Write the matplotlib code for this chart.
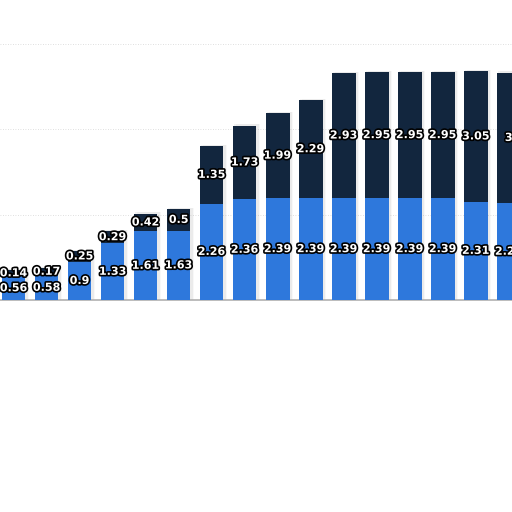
import matplotlib
matplotlib.use("Agg")
import matplotlib.pyplot as plt
import matplotlib.patheffects as pe
import numpy as np

bottom_vals = [0.56, 0.58, 0.9, 1.33, 1.61, 1.63, 2.26, 2.36, 2.39, 2.39, 2.39, 2.39, 2.39, 2.39, 2.31, 2.27]
top_vals = [0.14, 0.17, 0.25, 0.29, 0.42, 0.5, 1.35, 1.73, 1.99, 2.29, 2.93, 2.95, 2.95, 2.95, 3.05, 3.06]
top_labels = ["0.14", "0.17", "0.25", "0.29", "0.42", "0.5", "1.35", "1.73", "1.99", "2.29", "2.93", "2.95", "2.95", "2.95", "3.05", "3"]
bottom_labels = ["0.56", "0.58", "0.9", "1.33", "1.61", "1.63", "2.26", "2.36", "2.39", "2.39", "2.39", "2.39", "2.39", "2.39", "2.31", "2.27"]

blue = "#2e78dc"
navy = "#12263e"

fig = plt.figure(figsize=(5.12, 5.12), dpi=100)
ax = fig.add_axes([0, 0, 1, 1])
x = np.arange(len(bottom_vals))
b = np.array(bottom_vals)
t = np.array(top_vals)

for yv in [2, 4, 6]:
    ax.axhline(yv, color="#d5d5d5", lw=0.6, ls=(0, (1, 2)), zorder=0)

# soft shadows
for dx, alpha in [(0.06, 0.10), (0.1, 0.06)]:
    ax.bar(x + dx, b + t + 0.03, width=0.74, color="#888888", alpha=alpha, zorder=1, linewidth=0)

ax.bar(x, b, width=0.72, color=blue, zorder=2, linewidth=0)
ax.bar(x, t, bottom=b, width=0.72, color=navy, zorder=2, linewidth=0, edgecolor="none")
ax.axhline(0, color="#b0b0b0", lw=1.2, zorder=1)

stroke = [pe.withStroke(linewidth=2.4, foreground="black")]
for i in range(len(x)):
    ax.text(x[i], b[i] / 2, bottom_labels[i], ha="center", va="center", color="white",
            fontsize=8, fontweight="bold", path_effects=stroke, zorder=3)
    ax.text(x[i], b[i] + t[i] / 2, top_labels[i], ha="center", va="center", color="white",
            fontsize=8, fontweight="bold", path_effects=stroke, zorder=3)

ax.set_xlim(-0.41, 15.1)
ax.set_ylim(-4.96, 7.03)
ax.axis("off")
fig.savefig("out.png", dpi=100, facecolor="white")
